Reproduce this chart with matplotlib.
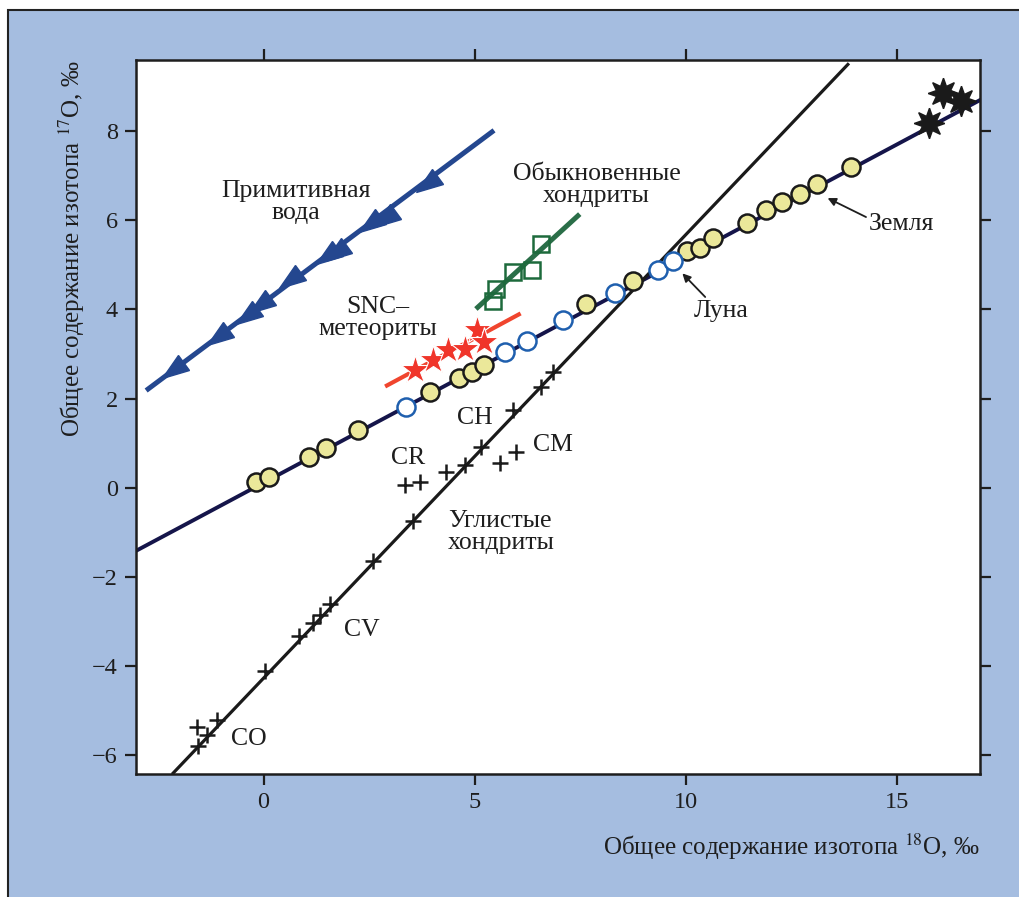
import numpy as np
import matplotlib.pyplot as plt
from matplotlib.markers import MarkerStyle
from matplotlib.transforms import Affine2D
from matplotlib.patches import Rectangle

plt.rcParams["font.family"] = ["Liberation Serif", "DejaVu Serif"]
plt.rcParams["mathtext.fontset"] = "stix"

# primitive water (triangles) and its fit line
water_x = [-2.14, -1.08, -0.39, -0.08, 0.63, 1.50, 1.72, 2.52, 2.88, 3.87]
water_y = [2.63, 3.37, 3.86, 4.09, 4.65, 5.20, 5.26, 5.92, 6.03, 6.82]
water_line_x = [-2.78, 5.46]
water_line_y = [2.18, 8.02]

# Earth-Moon fractionation line
earth_line_x = [-3.02, 16.97]
earth_line_y = [-1.42, 8.70]
earth_x = [-0.18, 0.13, 1.08, 1.48, 2.24, 3.94, 4.63, 4.94, 5.22, 7.63, 8.75,
           10.02, 10.33, 10.64, 11.44, 11.91, 12.29, 12.70, 13.11, 13.92]
earth_y = [0.13, 0.24, 0.69, 0.89, 1.29, 2.14, 2.45, 2.59, 2.75, 4.12, 4.63,
           5.31, 5.39, 5.60, 5.93, 6.23, 6.42, 6.60, 6.82, 7.19]
moon_x = [3.37, 5.72, 6.23, 7.10, 8.32, 9.34, 9.70]
moon_y = [1.82, 3.04, 3.30, 3.77, 4.36, 4.88, 5.09]
earth_star_x = [15.76, 16.09, 16.52]
earth_star_y = [8.18, 8.86, 8.68]

# SNC meteorites
snc_x = [3.59, 4.02, 4.37, 4.77, 5.05, 5.22]
snc_y = [2.63, 2.86, 3.08, 3.12, 3.53, 3.26]
snc_line_x = [2.88, 6.09]
snc_line_y = [2.27, 3.91]

# ordinary chondrites
oc_x = [5.44, 5.50, 5.91, 6.37, 6.58]
oc_y = [4.20, 4.46, 4.83, 4.88, 5.46]
oc_line_x = [5.03, 7.49]
oc_line_y = [4.01, 6.14]

# carbonaceous chondrites
cc_line_x = [-2.14, 13.84]
cc_line_y = [-6.41, 9.50]
cc_x = [-1.58, -1.54, -1.34, -1.11, 0.04, 0.85, 1.18, 1.34, 1.57, 2.60, 3.55,
        3.35, 3.70, 4.32, 4.77, 5.16, 5.60, 5.99, 5.91, 6.58, 6.86]
cc_y = [-5.38, -5.80, -5.55, -5.22, -4.11, -3.33, -3.03, -2.85, -2.62, -1.65, -0.76,
        0.06, 0.13, 0.34, 0.51, 0.92, 0.55, 0.81, 1.74, 2.26, 2.59]

x_ticks = [0, 5, 10, 15]
y_ticks = [-6, -4, -2, 0, 2, 4, 6, 8]

fig = plt.figure(figsize=(10.2, 8.97), dpi=100, facecolor="white")
# blue printed backdrop with a thin black frame on top and left
fig.patches.append(Rectangle((8 / 1020, -0.05), 1.1, 1.05 - 10 / 897,
                             transform=fig.transFigure, facecolor="#a5bde0",
                             edgecolor="#222222", lw=1.5, zorder=-10))
ax = fig.add_axes([136 / 1020, 1 - 774 / 897, (980 - 136) / 1020, (774 - 60) / 897])
ax.set_facecolor("white")

tc = "#1e1e1e"
ax.plot(water_line_x, water_line_y, color="#24478f", lw=3.6, solid_capstyle="butt", zorder=2)
tri = MarkerStyle("<", transform=Affine2D().scale(1.25, 0.85).rotate_deg(36))
ax.plot(water_x, water_y, ls="none", marker=tri, ms=15, color="#24478f", zorder=3)

ax.plot(earth_line_x, earth_line_y, color="#15154a", lw=2.8, zorder=2)
ax.plot(earth_x, earth_y, ls="none", marker="o", ms=13, mfc="#ebe89a", mec="#1a1a1a", mew=1.8, zorder=4)
ax.plot(moon_x, moon_y, ls="none", marker="o", ms=13, mfc="white", mec="#1f5fae", mew=1.8, zorder=4)
ax.plot(earth_star_x, earth_star_y, ls="none", marker=(8, 1, 0), ms=22, color="#1a1a1a", zorder=4)

ax.plot(snc_line_x, snc_line_y, color="#f0452e", lw=3.0, solid_capstyle="butt", zorder=2)
ax.plot(snc_x, snc_y, ls="none", marker="*", ms=21, mfc="#f0352a", mec="white", mew=0.8, zorder=3)

ax.plot(oc_line_x, oc_line_y, color="#2a6e48", lw=3.6, solid_capstyle="butt", zorder=3)
ax.plot(oc_x, oc_y, ls="none", marker="s", ms=12, mfc="none", mec="#1d6a3c", mew=1.8, zorder=3)

ax.plot(cc_line_x, cc_line_y, color="#1a1a1a", lw=2.3, zorder=2)
ax.plot(cc_x, cc_y, ls="none", marker="+", ms=12, mew=1.8, color="#1a1a1a", zorder=3)

fs = 18.5
ax.text(0.77, 6.41, "Примитивная\nвода", ha="center", va="center", fontsize=fs, color=tc, linespacing=1.0)
ax.text(7.89, 6.79, "Обыкновенные\nхондриты", ha="center", va="center", fontsize=fs, color=tc, linespacing=1.0)
ax.text(2.71, 3.80, "SNC–\nметеориты", ha="center", va="center", fontsize=fs, color=tc, linespacing=1.0)
ax.text(5.01, 1.56, "CH", ha="center", va="center", fontsize=fs, color=tc)
ax.text(3.42, 0.66, "CR", ha="center", va="center", fontsize=fs, color=tc)
ax.text(6.86, 0.96, "CM", ha="center", va="center", fontsize=fs, color=tc)
ax.text(4.37, -0.99, "Углистые\nхондриты", ha="left", va="center", fontsize=fs, color=tc, linespacing=1.0)
ax.text(2.33, -3.19, "CV", ha="center", va="center", fontsize=fs, color=tc)
ax.text(-0.34, -5.64, "CO", ha="center", va="center", fontsize=fs, color=tc)

arrow = dict(arrowstyle="-|>", color=tc, lw=1.3, mutation_scale=12, shrinkA=0, shrinkB=0)
ax.annotate("Земля", xy=(13.36, 6.50), xytext=(15.11, 5.92), ha="center", va="center",
            fontsize=fs, color=tc, arrowprops=dict(arrow, relpos=(0.0, 0.75)))
ax.annotate("Луна", xy=(9.92, 4.81), xytext=(10.85, 3.97), ha="center", va="center",
            fontsize=fs, color=tc, arrowprops=dict(arrow, relpos=(0.25, 1.0)))

ax.set_xlim(-3.02, 16.97)
ax.set_ylim(-6.43, 9.60)
ax.set_xticks(x_ticks)
ax.set_yticks(y_ticks)
ax.tick_params(direction="out", length=8, width=1.6, labelsize=17.5, colors=tc, pad=5,
               top=True, right=True, labeltop=False, labelright=False)
for s in ax.spines.values():
    s.set_linewidth(1.8)
    s.set_color("#1e1e1e")

ax.set_xlabel("Общее содержание изотопа $^{18}$O, ‰", fontsize=18, color=tc, loc="right", labelpad=13)
ax.set_ylabel("Общее содержание изотопа $^{17}$O, ‰", fontsize=18, color=tc, loc="top", labelpad=4)

fig.savefig("out.png", dpi=100, facecolor=fig.get_facecolor())
